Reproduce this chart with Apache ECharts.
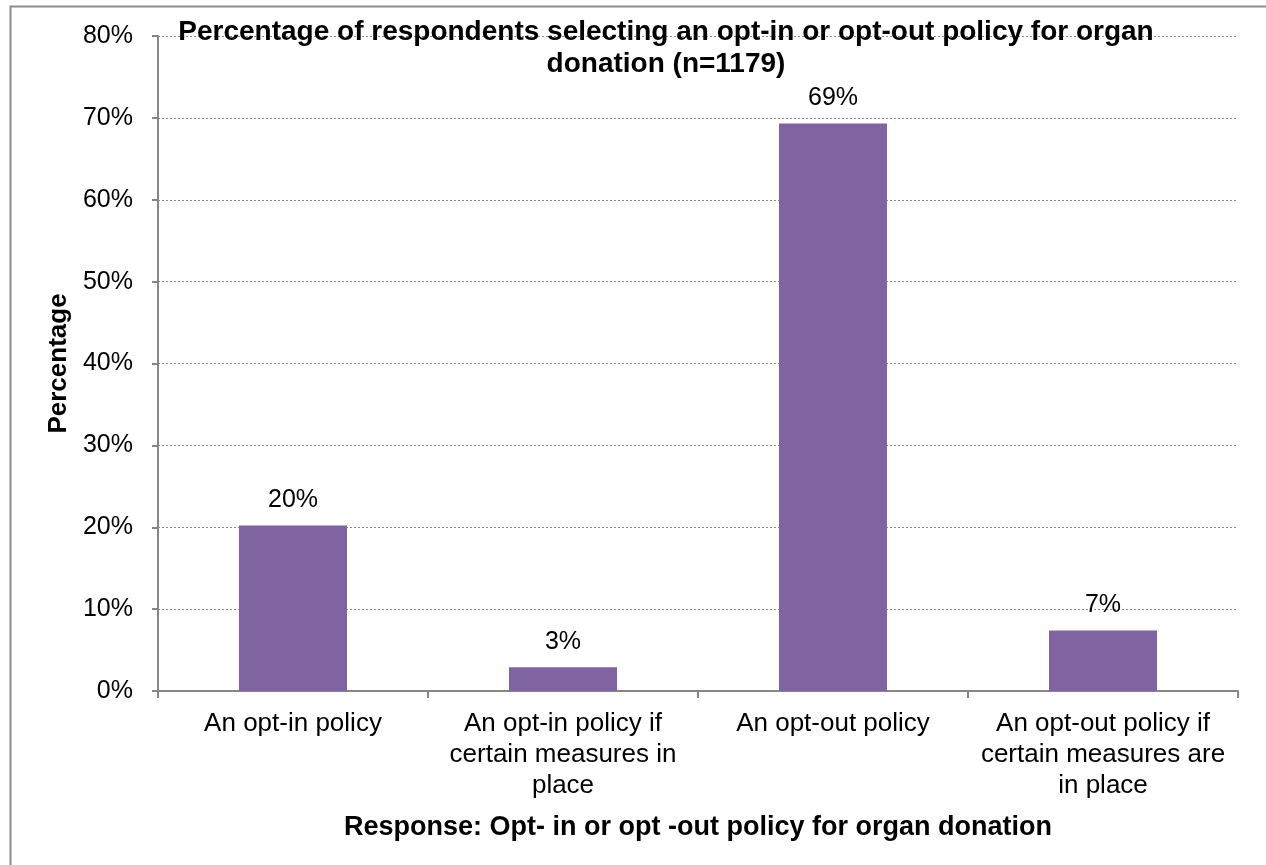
<!DOCTYPE html>
<html>
<head>
<meta charset="utf-8">
<script src="https://cdn.jsdelivr.net/npm/echarts@6/dist/echarts.min.js"></script>
<style>
  html, body { margin: 0; padding: 0; background: #fff; }
  #chart { width: 1266px; height: 865px; }
</style>
</head>
<body>
<div id="chart"></div>
<script>
// Survey responses: share choosing each organ donation policy (n=1179)
const categories = [
  'An opt-in policy',
  'An opt-in policy if\ncertain measures in\nplace',
  'An opt-out policy',
  'An opt-out policy if\ncertain measures are\nin place'
];
const percentages = [20.2, 2.9, 69.3, 7.4];
const yTicks = { min: 0, max: 80, interval: 10 };

const FONT = '"Liberation Sans", Arial, sans-serif';
const AXIS_GRAY = '#868686';

const chart = echarts.init(document.getElementById('chart'), null, { renderer: 'canvas' });

chart.setOption({
  backgroundColor: '#ffffff',
  animation: false,
  title: {
    text: 'Percentage of respondents selecting an opt-in or opt-out policy for organ\ndonation (n=1179)',
    left: 661,
    top: 11,
    textAlign: 'center',
    textStyle: {
      fontFamily: FONT,
      fontSize: 28,
      fontWeight: 'bold',
      color: '#000',
      lineHeight: 32
    }
  },
  graphic: [{
    type: 'rect',
    z: -1,
    shape: { x: 10.5, y: 6.5, width: 1300, height: 900 },
    style: { fill: 'none', stroke: '#8c8c8c', lineWidth: 2 }
  }],
  grid: { left: 158, right: 28, top: 36, bottom: 174 },
  xAxis: {
    type: 'category',
    data: categories,
    name: 'Response: Opt- in or opt -out policy for organ donation',
    nameLocation: 'middle',
    nameGap: 123,
    nameTextStyle: { fontFamily: FONT, fontSize: 27, fontWeight: 'bold', color: '#000' },
    axisLine: { lineStyle: { color: AXIS_GRAY, width: 2 } },
    axisTick: { show: true, length: 7, lineStyle: { color: AXIS_GRAY, width: 2 } },
    axisLabel: {
      interval: 0,
      margin: 17,
      fontFamily: FONT,
      fontSize: 26,
      lineHeight: 31,
      color: '#000',
      align: 'center'
    }
  },
  yAxis: {
    type: 'value',
    min: yTicks.min,
    max: yTicks.max,
    interval: yTicks.interval,
    name: 'Percentage',
    nameLocation: 'middle',
    nameGap: 83,
    nameRotate: 90,
    nameTextStyle: { fontFamily: FONT, fontSize: 26, fontWeight: 'bold', color: '#000' },
    axisLine: { show: true, lineStyle: { color: AXIS_GRAY, width: 2 } },
    axisTick: { show: true, length: 6, lineStyle: { color: AXIS_GRAY, width: 2 } },
    axisLabel: {
      margin: 25,
      fontFamily: FONT,
      fontSize: 25,
      color: '#000',
      formatter: '{value}%'
    },
    splitLine: {
      show: true,
      lineStyle: { color: '#8a8a8a', width: 1, type: [2, 2] }
    }
  },
  series: [{
    type: 'bar',
    data: percentages,
    barCategoryGap: '60%',
    itemStyle: { color: '#8064A2' },
    label: {
      show: true,
      position: 'top',
      distance: 13,
      fontFamily: FONT,
      fontSize: 25,
      color: '#000',
      formatter: p => Math.round(p.value) + '%'
    }
  }]
});
</script>
</body>
</html>
